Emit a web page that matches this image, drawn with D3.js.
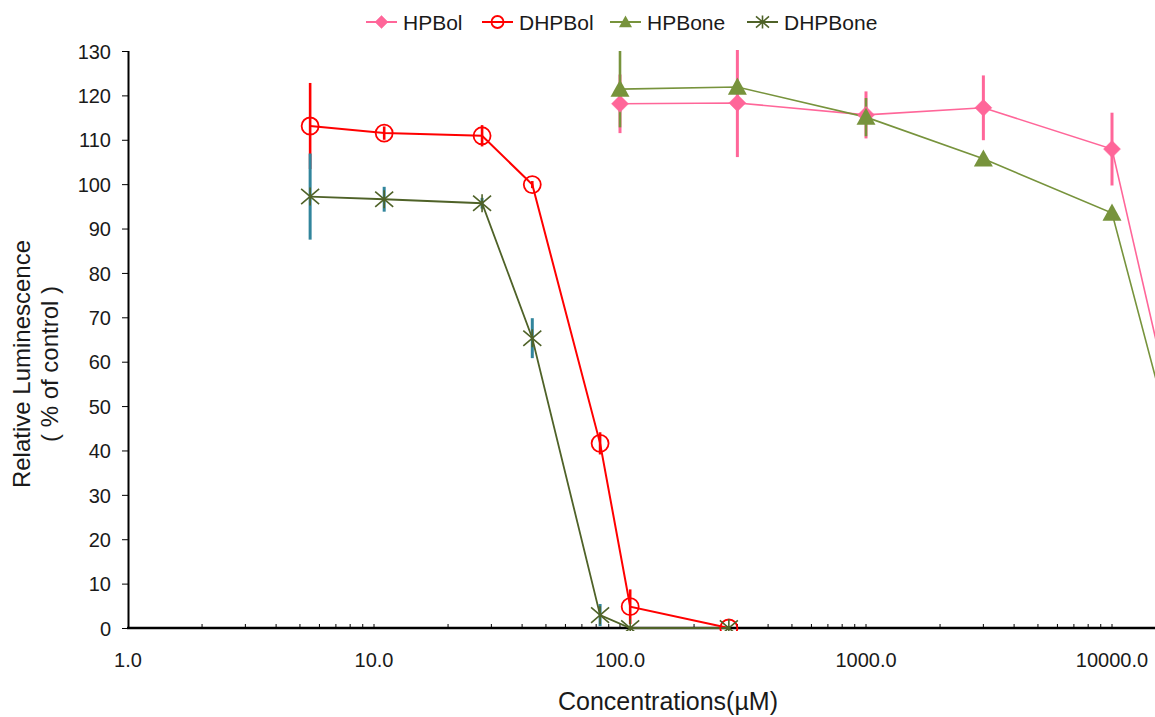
<!DOCTYPE html>
<html>
<head>
<meta charset="utf-8">
<script src="https://cdn.jsdelivr.net/npm/d3@7"></script>
<style>
  html, body { margin: 0; padding: 0; background: #fff; }
  svg { display: block; }
  text { font-family: "Liberation Sans", Arial, sans-serif; fill: #1a1a1a; }
</style>
</head>
<body>
<svg id="chart" width="1155" height="717"></svg>
<script>
// Concentrations (µM) for the dihydro series and the parent series
const dhpConc = [5.5, 11, 27.5, 44, 83, 110, 277];
const hpConc = [100, 300, 1000, 3000, 10000, 20000];

// Mean relative luminescence (% of control) and error bar half-widths
const hpbolMean = [118.1, 118.3, 115.6, 117.2, 107.9, 35.4];
const hpbolErr = [6.6, 12.2, 5.3, 7.3, 8.2, 0];

const dhpbolMean = [113.1, 111.5, 110.9, 99.9, 41.6, 4.8, 0];
const dhpbolErr = [9.7, 1.5, 2.4, 0.8, 2.5, 3.9, 0];

const hpboneMean = [121.4, 121.9, 115.1, 105.7, 93.5, 30.4];
const hpboneErr = [8.6, 1.5, 4.3, 0.5, 0.5, 0];

const dhpboneMean = [97.2, 96.6, 95.7, 65.3, 2.9, 0, 0];
const dhpboneErr = [9.7, 2.8, 1.2, 4.5, 2.5, 0, 0];

const seriesNames = ["HPBol", "DHPBol", "HPBone", "DHPBone"];
const xTickValues = [1, 10, 100, 1000, 10000];
const yTickValues = d3.range(0, 131, 10);

const svg = d3.select("#chart");
const W = 1155, H = 717;

// Log axis: one decade is 246 px, starting at 1 µM
const x0 = 128, decade = 246;
const x = d3.scaleLog().domain([1, 20000]).range([x0, x0 + decade * Math.log10(20000)]);
const y = d3.scaleLinear().domain([0, 130]).range([628, 51]);

const series = [
  { name: seriesNames[0], conc: hpConc, mean: hpbolMean, err: hpbolErr,
    color: "#FF6699", errColor: "#FF6699", lineW: 1.6, errW: 3, marker: "diamond" },
  { name: seriesNames[1], conc: dhpConc, mean: dhpbolMean, err: dhpbolErr,
    color: "#FF0000", errColor: "#FF0000", lineW: 2, errW: 2.6, marker: "circle" },
  { name: seriesNames[2], conc: hpConc, mean: hpboneMean, err: hpboneErr,
    color: "#77933C", errColor: "#77933C", lineW: 1.6, errW: 2.6, marker: "triangle" },
  { name: seriesNames[3], conc: dhpConc, mean: dhpboneMean, err: dhpboneErr,
    color: "#4F6228", errColor: "#31859C", lineW: 1.8, errW: 3, marker: "star" }
];

// Clip to the plotting area (top edge at 130 %)
svg.append("defs").append("clipPath").attr("id", "plotClip")
  .append("rect").attr("x", x0).attr("y", y(130) - 1)
  .attr("width", W - x0).attr("height", y(0) - y(130) + 4);

// Y axis
const yAxis = svg.append("g").attr("transform", `translate(${x0},0)`)
  .call(d3.axisLeft(y).tickValues(yTickValues).tickSize(6).tickPadding(11).tickFormat(d3.format("d")));
yAxis.select(".domain").attr("stroke", "#000").attr("stroke-width", 2).attr("d", `M0.5,${y(130)}V${y(0)}`);
yAxis.selectAll(".tick line").attr("stroke", "#000").attr("stroke-width", 1);
yAxis.selectAll(".tick text").style("font-size", "20px").attr("fill", "#1a1a1a").attr("dy", "0.36em");

// X axis: minor ticks 2..9 per decade pointing inward, labels at decades
const minorTicks = [];
for (let e = 0; e < 5; e++) for (let m = 1; m <= 9; m++) {
  const v = m * Math.pow(10, e);
  if (v > 1 && v <= 20000) minorTicks.push(v);
}
const xAxis = svg.append("g").attr("transform", `translate(0,${y(0)})`);
xAxis.selectAll("line.minor").data(minorTicks).join("line")
  .attr("class", "minor")
  .attr("x1", d => x(d)).attr("x2", d => x(d))
  .attr("y1", 0).attr("y2", -4)
  .attr("stroke", "#000").attr("stroke-width", 1);
xAxis.append("line").attr("x1", x0 - 1).attr("x2", W).attr("y1", 0).attr("y2", 0)
  .attr("stroke", "#000").attr("stroke-width", 2.5);
xAxis.selectAll("text.xt").data(xTickValues).join("text")
  .attr("class", "xt")
  .attr("x", d => x(d)).attr("y", 39)
  .attr("text-anchor", "middle").style("font-size", "20px")
  .text(d => d3.format(".1f")(d));

// Axis titles
svg.append("text").attr("x", 668).attr("y", 710).attr("text-anchor", "middle")
  .style("font-size", "25px").text("Concentrations(µM)");
svg.append("text").attr("transform", "translate(30,364) rotate(-90)").attr("text-anchor", "middle")
  .style("font-size", "24px").text("Relative Luminescence");
svg.append("text").attr("transform", "translate(58,364) rotate(-90)").attr("text-anchor", "middle")
  .style("font-size", "24px").text("( % of control )");

// Marker drawing
function drawMarker(g, type, color, size) {
  const s = size;
  if (type === "diamond") {
    g.append("path").attr("d", `M0,${-s}L${s},0L0,${s}L${-s},0Z`)
      .attr("fill", color).attr("stroke", color).attr("stroke-width", 0.8).attr("stroke-opacity", 0.6);
  } else if (type === "circle") {
    g.append("circle").attr("r", s).attr("fill", "none").attr("stroke", color).attr("stroke-width", 1.8);
  } else if (type === "triangle") {
    const h = s * 1.8;
    g.append("path").attr("d", `M0,${-h * 0.55}L${s},${h * 0.45}L${-s},${h * 0.45}Z`).attr("fill", color);
  } else if (type === "star") {
    g.append("path")
      .attr("d", `M${-s},${-s * 0.85}L${s},${s * 0.85}M${-s},${s * 0.85}L${s},${-s * 0.85}M0,${-s}L0,${s}`)
      .attr("stroke", color).attr("stroke-width", 1.6).attr("fill", "none");
  }
}
const markerSize = { diamond: 8.5, circle: 8.5, triangle: 9.5, star: 9 };

const plot = svg.append("g").attr("clip-path", "url(#plotClip)");

// Error bars
series.forEach(s => {
  plot.append("g").selectAll("line").data(s.conc.map((c, i) => ({ c, m: s.mean[i], e: s.err[i] })).filter(d => d.e > 0))
    .join("line")
    .attr("x1", d => x(d.c)).attr("x2", d => x(d.c))
    .attr("y1", d => y(d.m + d.e)).attr("y2", d => y(Math.max(0, d.m - d.e)))
    .attr("stroke", s.errColor).attr("stroke-width", s.errW);
});

// Lines
const line = d3.line().x(d => x(d.c)).y(d => y(d.m));
series.forEach(s => {
  plot.append("path").datum(s.conc.map((c, i) => ({ c, m: s.mean[i] })))
    .attr("d", line).attr("fill", "none").attr("stroke", s.color).attr("stroke-width", s.lineW);
});

// Markers
series.forEach(s => {
  s.conc.forEach((c, i) => {
    const g = plot.append("g").attr("transform", `translate(${x(c)},${y(s.mean[i])})`);
    drawMarker(g, s.marker, s.color, markerSize[s.marker]);
  });
});

// Legend
const legendX = [366, 482, 610, 747];
series.forEach((s, i) => {
  const g = svg.append("g").attr("transform", `translate(${legendX[i]},22)`);
  g.append("line").attr("x1", 0).attr("x2", 31).attr("y1", 0).attr("y2", 0)
    .attr("stroke", s.color).attr("stroke-width", 2);
  const mg = g.append("g").attr("transform", "translate(15.5,0)");
  drawMarker(mg, s.marker, s.color, s.marker === "circle" ? 6 : 6.5);
  g.append("text").attr("x", 37).attr("y", 0).attr("dy", "0.36em")
    .style("font-size", "21px").text(s.name);
});
</script>
</body>
</html>
